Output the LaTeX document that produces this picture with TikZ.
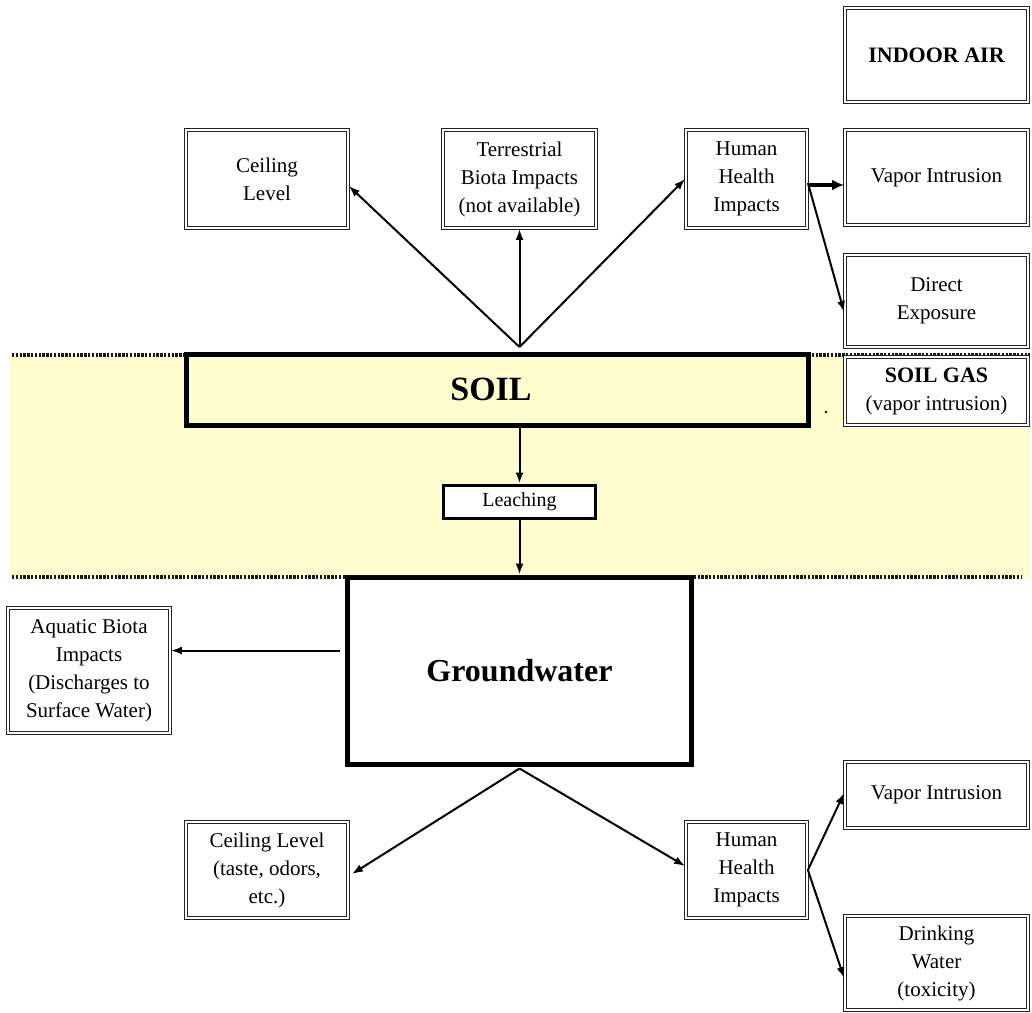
\documentclass[tikz,border=0pt]{standalone}
\usepackage{fontspec}
\setmainfont{Liberation Serif}
\usetikzlibrary{arrows.meta,calc}
\definecolor{band}{RGB}{255,252,208}
\definecolor{boxline}{RGB}{35,35,35}
\tikzset{
  dbox/.style={draw=boxline, double=white, double distance=1.3pt, line width=1.8pt,
    fill=white, align=center, inner sep=2pt, font=\fontsize{21}{28}\selectfont},
  hbox/.style={dbox, font=\fontsize{22}{28}\selectfont\bfseries},
  bigbox/.style={draw=black, line width=5pt, align=center, inner sep=0pt},
  conn/.style={line width=2pt, -{Latex[length=11pt,width=8pt]}},
  sep/.style={line width=4pt, dash pattern=on 2.4pt off 1.4pt, black!90},
}
\begin{document}
\begin{tikzpicture}[x=1pt,y=-1pt]
\useasboundingbox (0,0) rectangle (1032,1012);
% soil band
\fill[band] (10,355) rectangle (1030,577);
\draw[sep] (12,355) -- (186,355);
\draw[sep] (808,355) -- (1030,355);
\draw[sep] (12,577) -- (347,577);
\draw[sep] (595,577) -- (1022,577);
% top boxes
\node[hbox, minimum width=183pt, minimum height=94pt] (indoor) at (936.5,55) {INDOOR AIR};
\node[dbox, minimum width=162pt, minimum height=98pt] (ceil1) at (267,179) {Ceiling\\Level};
\node[dbox, minimum width=153pt, minimum height=98pt] (terr) at (519.5,179) {Terrestrial\\Biota Impacts\\(not available)};
\node[dbox, minimum width=121pt, minimum height=98pt] (hh1) at (746.5,179) {Human\\Health\\Impacts};
\node[dbox, minimum width=183pt, minimum height=95pt] (vap1) at (936.5,177.5) {Vapor Intrusion};
\node[dbox, minimum width=183pt, minimum height=92pt] (dexp) at (936.5,301) {Direct\\Exposure};
% soil
\node[bigbox, fill=band, minimum width=622pt, minimum height=71pt, font=\fontsize{34}{40}\selectfont\bfseries] (soil) at (497,389.5) {\hspace*{-12pt}SOIL};
\node[dbox, minimum width=183pt, minimum height=68pt] (soilgas) at (936.5,391) {\textbf{\fontsize{22}{28}\selectfont SOIL GAS}\\(vapor intrusion)};
\fill (826,412) circle (1.3pt);
\node[draw=black, line width=3pt, fill=white, minimum width=152pt, minimum height=33pt, inner sep=0pt, font=\fontsize{20}{24}\selectfont] (leach) at (519.5,501.5) {Leaching};
% groundwater
\node[bigbox, fill=white, minimum width=344pt, minimum height=187pt, font=\fontsize{32}{38}\selectfont\bfseries] (gw) at (519.5,670.5) {Groundwater};
\node[dbox, minimum width=162pt, minimum height=125pt] (aqua) at (89,670.5) {Aquatic Biota\\Impacts\\(Discharges to\\Surface Water)};
\node[dbox, minimum width=162pt, minimum height=96pt] (ceil2) at (267,870) {Ceiling Level\\(taste, odors,\\etc.)};
\node[dbox, minimum width=121pt, minimum height=96pt] (hh2) at (746.5,870) {Human\\Health\\Impacts};
\node[dbox, minimum width=183pt, minimum height=66pt] (vap2) at (936.5,795) {Vapor Intrusion};
\node[dbox, minimum width=183pt, minimum height=94pt] (drink) at (936.5,963) {Drinking\\Water\\(toxicity)};
% connectors
\coordinate (apex) at (519.5,347);
\draw[conn] (apex) -- ([yshift=-7pt]ceil1.east);
\draw[conn] (apex) -- (terr.south);
\draw[conn] (apex) -- (hh1.west);
\draw[conn, line width=3.5pt, -{Latex[length=12pt,width=11pt]}] ([yshift=-6pt]hh1.east) -- ([yshift=-6pt]hh1.east -| vap1.west);
\draw[conn] ([yshift=-4pt]hh1.east) -- ([yshift=-11pt]dexp.west);
\draw[conn] (leach.north |- soil.south) -- (leach.north);
\draw[conn] (leach.south) -- (gw.north);
\coordinate (gwl) at ([shift={(-5,-20)}]gw.west);
\draw[conn] (gwl) -- (gwl -| aqua.east);
\coordinate (gwb) at ([yshift=-2pt]gw.south);
\draw[conn] (gwb) -- ([shift={(3,4)}]ceil2.east);
\draw[conn] (gwb) -- ([yshift=4pt]hh2.west);
\draw[conn] (hh2.east) -- ([yshift=2pt]vap2.west);
\draw[conn] (hh2.east) -- ([yshift=-15pt]drink.west);
\end{tikzpicture}
\end{document}
